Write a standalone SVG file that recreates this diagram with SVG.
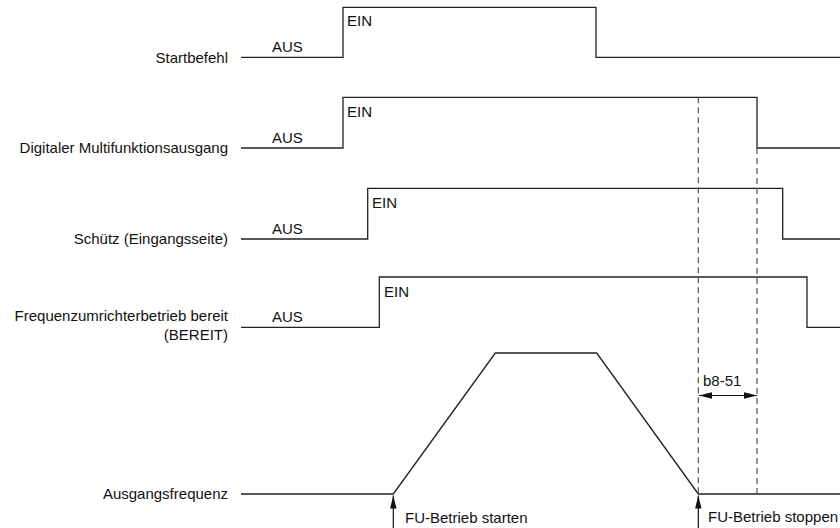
<svg xmlns="http://www.w3.org/2000/svg" width="840" height="528" viewBox="0 0 840 528">
  <style>
    text { font-family: "Liberation Sans", Arial, sans-serif; font-size: 15px; fill: #111; }
    .lbl { text-anchor: end; }
    .sig { fill: none; stroke: #222; stroke-width: 1.3; stroke-linejoin: miter; }
    .dash { fill: none; stroke: #555; stroke-width: 1.2; stroke-dasharray: 6 4; }
    .arr { fill: none; stroke: #111; stroke-width: 1.2; }
  </style>
  <defs>
    <marker id="head" markerUnits="userSpaceOnUse" markerWidth="13" markerHeight="8" refX="13" refY="4" orient="auto-start-reverse">
      <path d="M0,0.8 L13,4 L0,7.2 z" fill="#111"/>
    </marker>
  </defs>

  <rect width="840" height="528" fill="#fff"/>

  <!-- Start command -->
  <g id="startbefehl">
    <text class="lbl" x="228" y="63">Startbefehl</text>
    <polyline class="sig" points="241,57.3 343,57.3 343,7.3 596,7.3 596,57.3 840,57.3"/>
    <text x="272" y="52">AUS</text>
    <text x="347" y="26">EIN</text>
  </g>

  <!-- Multi-function digital output -->
  <g id="digitalausgang">
    <text class="lbl" x="228" y="153">Digitaler Multifunktionsausgang</text>
    <polyline class="sig" points="241,148 343,148 343,97.3 757,97.3 757,148 840,148"/>
    <text x="272" y="143">AUS</text>
    <text x="347" y="117">EIN</text>
  </g>

  <!-- Input-side contactor -->
  <g id="schuetz">
    <text class="lbl" x="228" y="244">Schütz (Eingangsseite)</text>
    <polyline class="sig" points="241,239 367.7,239 367.7,188.3 782.7,188.3 782.7,239 840,239"/>
    <text x="272" y="234">AUS</text>
    <text x="372" y="208">EIN</text>
  </g>

  <!-- Drive ready -->
  <g id="bereit">
    <text class="lbl" x="228" y="321">Frequenzumrichterbetrieb bereit</text>
    <text class="lbl" x="228" y="340">(BEREIT)</text>
    <polyline class="sig" points="241,327.3 379.3,327.3 379.3,277 807,277 807,327.3 840,327.3"/>
    <text x="272" y="322">AUS</text>
    <text x="384" y="297">EIN</text>
  </g>

  <!-- Output frequency -->
  <g id="ausgangsfrequenz">
    <text class="lbl" x="228" y="499">Ausgangsfrequenz</text>
    <polyline class="sig" points="241,494 393.3,494 495.3,353 596.7,353 698.3,494 840,494"/>
  </g>

  <!-- Timing markers -->
  <g id="connectors">
    <line class="dash" x1="698.3" y1="97.3" x2="698.3" y2="494"/>
    <line class="dash" x1="757" y1="148" x2="757" y2="494"/>
    <line class="arr" x1="699" y1="395.5" x2="757" y2="395.5" marker-start="url(#head)" marker-end="url(#head)"/>
    <line class="arr" x1="393.3" y1="528" x2="393.3" y2="495.5" marker-end="url(#head)"/>
    <line class="arr" x1="698.3" y1="528" x2="698.3" y2="495.5" marker-end="url(#head)"/>
  </g>

  <g id="annotations">
    <text x="703" y="386">b8-51</text>
    <text x="405" y="523">FU-Betrieb starten</text>
    <text x="708" y="522">FU-Betrieb stoppen</text>
  </g>
</svg>
